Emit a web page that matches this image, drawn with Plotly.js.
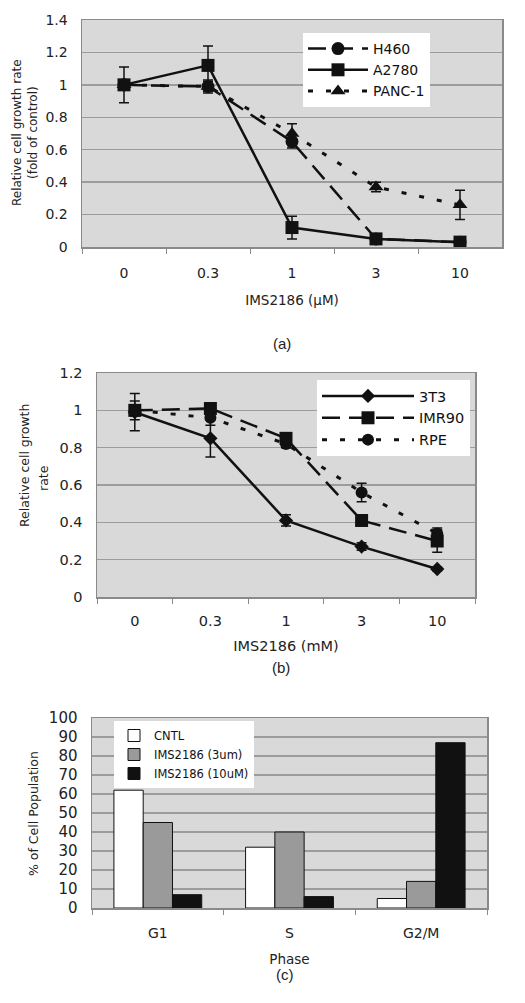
<!DOCTYPE html>
<html>
<head>
<meta charset="utf-8">
<script src="https://cdn.plot.ly/plotly-3.0.1.min.js"></script>
<style>html,body{margin:0;padding:0;background:#fff;}#chart{width:525px;height:1003px;}</style>
</head>
<body>
<div id="chart"></div>
<script>
// ---- Panel (a) ----
const dosesA = ["0", "0.3", "1", "3", "10"];
const h460 = [1.0, 0.99, 0.65, 0.05, 0.03];
const h460Err = [0.03, 0.03, 0.04, 0.02, 0.02];
const a2780 = [1.0, 1.12, 0.12, 0.05, 0.03];
const a2780Err = [0.11, 0.12, 0.07, 0.02, 0.02];
const panc1 = [1.0, 0.99, 0.70, 0.37, 0.26];
const panc1Err = [0.02, 0.04, 0.06, 0.03, 0.09];

// ---- Panel (b) ----
const dosesB = ["0", "0.3", "1", "3", "10"];
const t3t3 = [0.99, 0.85, 0.41, 0.27, 0.15];
const t3t3Err = [0.10, 0.10, 0.03, 0.02, 0.01];
const imr90 = [1.0, 1.01, 0.85, 0.41, 0.30];
const imr90Err = [0.05, 0.03, 0.02, 0.02, 0.06];
const rpe = [1.0, 0.96, 0.82, 0.56, 0.34];
const rpeErr = [0.03, 0.04, 0.02, 0.05, 0.03];

// ---- Panel (c) ----
const phases = ["G1", "S", "G2/M"];
const cntl = [62, 32, 5];
const ims3 = [45, 40, 14];
const ims10 = [7, 6, 87];

const FONT = "DejaVu Sans, Verdana, sans-serif";
const ARIAL = "Liberation Sans, Arial, sans-serif";
const W = 525, H = 1003;

function errY(arr, w) {
  return {type: "data", array: arr, visible: true, color: "#111", thickness: 1.5, width: w};
}

const traces = [
  {x: dosesA, y: h460, name: "H460", type: "scatter", mode: "lines+markers",
   xaxis: "x", yaxis: "y", legend: "legend", legendgroup: "a1",
   line: {color: "#111", width: 2.5, dash: "18px,9px"},
   marker: {symbol: "circle", size: 13, color: "#111"}, error_y: errY(h460Err, 5)},
  {x: dosesA, y: a2780, name: "A2780", type: "scatter", mode: "lines+markers",
   xaxis: "x", yaxis: "y", legend: "legend", legendgroup: "a2",
   line: {color: "#111", width: 2.5},
   marker: {symbol: "square", size: 13, color: "#111"}, error_y: errY(a2780Err, 5)},
  {x: dosesA, y: panc1, name: "PANC-1", type: "scatter", mode: "lines+markers",
   xaxis: "x", yaxis: "y", legend: "legend", legendgroup: "a3",
   line: {color: "#111", width: 3, dash: "5px,13px"},
   marker: {symbol: "triangle-up", size: 13, color: "#111"}, error_y: errY(panc1Err, 5)},

  {x: dosesB, y: t3t3, name: "3T3", type: "scatter", mode: "lines+markers",
   xaxis: "x2", yaxis: "y2", legend: "legend2", legendgroup: "b1",
   line: {color: "#111", width: 2.5},
   marker: {symbol: "diamond", size: 11, color: "#111"}, error_y: errY(t3t3Err, 5)},
  {x: dosesB, y: imr90, name: "IMR90", type: "scatter", mode: "lines+markers",
   xaxis: "x2", yaxis: "y2", legend: "legend2", legendgroup: "b2",
   line: {color: "#111", width: 2.5, dash: "18px,9px"},
   marker: {symbol: "square", size: 13, color: "#111"}, error_y: errY(imr90Err, 5)},
  {x: dosesB, y: rpe, name: "RPE", type: "scatter", mode: "lines+markers",
   xaxis: "x2", yaxis: "y2", legend: "legend2", legendgroup: "b3",
   line: {color: "#111", width: 3, dash: "5px,13px"},
   marker: {symbol: "circle", size: 12, color: "#111"}, error_y: errY(rpeErr, 5)},

  {x: phases, y: cntl, name: "CNTL", type: "bar", xaxis: "x3", yaxis: "y3", legend: "legend3",
   legendgroup: "c1", marker: {color: "#ffffff", line: {color: "#111", width: 1}}},
  {x: phases, y: ims3, name: "IMS2186 (3um)", type: "bar", xaxis: "x3", yaxis: "y3", legend: "legend3",
   legendgroup: "c2", marker: {color: "#9a9a9a", line: {color: "#111", width: 1}}},
  {x: phases, y: ims10, name: "IMS2186 (10uM)", type: "bar", xaxis: "x3", yaxis: "y3", legend: "legend3",
   legendgroup: "c3", marker: {color: "#111111", line: {color: "#111", width: 1}}}
];

function px(x) { return x / W; }
function py(y) { return 1 - y / H; }

function xax(dom, anchor, size, title, tsize, standoff, lblStandoff) {
  return {domain: dom, anchor: anchor, type: "category", showgrid: false, zeroline: false,
    showline: true, linecolor: "#8a8a8a", linewidth: 1.5, mirror: true,
    ticks: "outside", tickson: "boundaries", ticklen: 5, tickcolor: "#8a8a8a",
    ticklabelstandoff: lblStandoff, tickfont: {family: FONT, size: size, color: "#222"},
    title: {text: title, font: {family: FONT, size: tsize, color: "#222"}, standoff: standoff}};
}
function yax(dom, anchor, range, dtick, size) {
  return {domain: dom, anchor: anchor, range: range, dtick: dtick, showgrid: true, gridcolor: "#9c9c9c", gridwidth: 1.5,
    zeroline: false, showline: true, linecolor: "#8a8a8a", linewidth: 1.5, mirror: true, ticks: "",
    ticklabelstandoff: 10, tickfont: {family: FONT, size: size, color: "#222"}};
}

const xa = xax([px(82), px(502)], "y", 14, "IMS2186 (μM)", 13.5, 15, 13);
xa.range = [-0.5, 4.5];
const xb = xax([px(97), px(475)], "y2", 14.5, "IMS2186 (mM)", 14.5, 13, 10);
xb.range = [-0.5, 4.5];
const xc = xax([px(92), px(487)], "y3", 14, "Phase", 13.5, 14, 12);

const ya = yax([py(247), py(20)], "x", [0, 1.4], 0.2, 14);
const yb = yax([py(597), py(373)], "x2", [0, 1.2], 0.2, 14.5);
const yc = yax([py(908), py(718)], "x3", [0, 100], 10, 15);

function leg(x, y, size, gap, iw) {
  return {x: x, y: y, xanchor: "left", yanchor: "top", bgcolor: "#ffffff", borderwidth: 0,
    font: {family: FONT, size: size, color: "#111"}, tracegroupgap: gap, traceorder: "normal",
    itemwidth: iw, itemclick: false, itemdoubleclick: false};
}

function vtitle(text, x, y, size) {
  return {text: text, x: px(x), y: py(y), xref: "paper", yref: "paper", showarrow: false,
    textangle: -90, xanchor: "center", yanchor: "middle", font: {family: FONT, size: size, color: "#222"}};
}
function plabel(text, x, y) {
  return {text: text, x: px(x), y: py(y), xref: "paper", yref: "paper", showarrow: false,
    font: {family: ARIAL, size: 15, color: "#222"}};
}

const layout = {
  width: W, height: H, margin: {l: 0, r: 0, t: 0, b: 0},
  paper_bgcolor: "#ffffff", plot_bgcolor: "#d9d9d9",
  showlegend: true, barmode: "group", bargap: 0.333, bargroupgap: 0,
  xaxis: xa, yaxis: ya, xaxis2: xb, yaxis2: yb, xaxis3: xc, yaxis3: yc,
  legend: leg(px(303), py(33), 14, 8, 60),
  legend2: leg(px(317), py(380), 14.5, 5, 92),
  legend3: leg(px(114), py(721), 11.5, 0, 30),
  annotations: [
    vtitle("Relative cell growth rate", 17, 133, 12),
    vtitle("(fold of control)", 33, 133, 12),
    vtitle("Relative cell growth", 25, 466, 12.5),
    vtitle("rate", 43, 478, 12.5),
    vtitle("% of Cell Population", 33, 814, 12.5),
    plabel("(a)", 282, 333),
    plabel("(b)", 281, 678),
    plabel("(c)", 285, 985)
  ]
};

Plotly.newPlot("chart", traces, layout, {displayModeBar: false, staticPlot: true});
</script>
</body>
</html>
